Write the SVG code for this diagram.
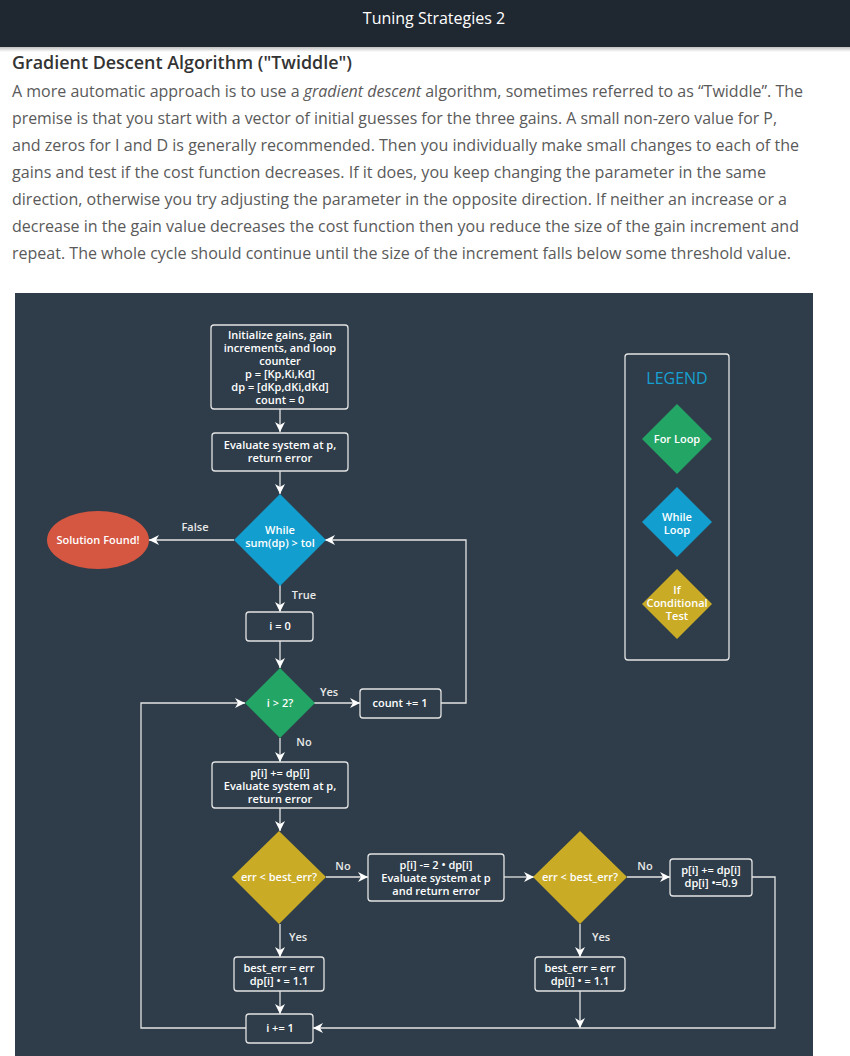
<svg xmlns="http://www.w3.org/2000/svg" width="850" height="1056" viewBox="0 0 850 1056">
<defs>
<style>
.hdr{font-family:"Open Sans","Liberation Sans",sans-serif;}
.para{font-family:"Open Sans","Liberation Sans",sans-serif;font-size:16px;fill:#5a5a5a;}
.t{font-family:"Open Sans","Liberation Sans",sans-serif;font-size:11px;font-weight:600;fill:#ffffff;text-anchor:middle;}
.lbl{font-family:"Open Sans","Liberation Sans",sans-serif;font-size:11px;font-weight:600;fill:#e8e8e8;text-anchor:middle;}
.box{fill:none;stroke:#e4e4e4;stroke-width:1.3;}
.con{fill:none;stroke:#e4e4e4;stroke-width:1.3;marker-end:url(#ah);}
</style>
<marker id="ah" markerUnits="userSpaceOnUse" markerWidth="10" markerHeight="10" refX="10" refY="5" orient="auto">
<path d="M0,0 L10,5 L0,10 L3,5 z" fill="#ffffff"/>
</marker>
<linearGradient id="sh" x1="0" y1="0" x2="0" y2="1">
<stop offset="0" stop-color="#000" stop-opacity="0.25"/>
<stop offset="1" stop-color="#000" stop-opacity="0"/>
</linearGradient>
</defs>
<rect width="850" height="1056" fill="#ffffff"/>
<rect x="0" y="0" width="850" height="47" fill="#1f2730"/>
<rect x="0" y="47" width="850" height="5" fill="url(#sh)"/>
<text class="hdr" x="434" y="24" font-size="16" fill="#ffffff" text-anchor="middle">Tuning Strategies 2</text>
<text class="hdr" x="12" y="69" font-size="18" font-weight="600" fill="#333333" textLength="340" lengthAdjust="spacingAndGlyphs">Gradient Descent Algorithm ("Twiddle")</text>
<text class="para" x="12" y="97" textLength="791" lengthAdjust="spacingAndGlyphs">A more automatic approach is to use a <tspan font-style="italic">gradient descent</tspan> algorithm, sometimes referred to as “Twiddle”. The</text>
<text class="para" x="12" y="124" textLength="765" lengthAdjust="spacingAndGlyphs">premise is that you start with a vector of initial guesses for the three gains. A small non-zero value for P,</text>
<text class="para" x="12" y="151" textLength="787" lengthAdjust="spacingAndGlyphs">and zeros for I and D is generally recommended. Then you individually make small changes to each of the</text>
<text class="para" x="12" y="178" textLength="754" lengthAdjust="spacingAndGlyphs">gains and test if the cost function decreases. If it does, you keep changing the parameter in the same</text>
<text class="para" x="12" y="205" textLength="775" lengthAdjust="spacingAndGlyphs">direction, otherwise you try adjusting the parameter in the opposite direction. If neither an increase or a</text>
<text class="para" x="12" y="232" textLength="787" lengthAdjust="spacingAndGlyphs">decrease in the gain value decreases the cost function then you reduce the size of the gain increment and</text>
<text class="para" x="12" y="259" textLength="779" lengthAdjust="spacingAndGlyphs">repeat. The whole cycle should continue until the size of the increment falls below some threshold value.</text>

<rect x="15" y="293" width="798" height="763" fill="#2e3d49"/>

<g id="connectors">
<path class="con" d="M280,409 V432"/>
<path class="con" d="M280,471 V494"/>
<path class="con" d="M234,540 H149"/>
<path class="con" d="M441,703 H466 V540 H325"/>
<path class="con" d="M280,585 V612"/>
<path class="con" d="M280,641 V668"/>
<path class="con" d="M314,703 H360"/>
<path class="con" d="M280,738 V762"/>
<path class="con" d="M280,808 V831"/>
<path class="con" d="M326,877 H368"/>
<path class="con" d="M504,877 H534"/>
<path class="con" d="M627,877 H670"/>
<path class="con" d="M280,924 V957"/>
<path class="con" d="M580,924 V957"/>
<path class="con" d="M280,991 V1014"/>
<path class="con" d="M580,991 V1028"/>
<path class="con" d="M752,877 H775 V1028 H313"/>
<path class="con" d="M246,1028 H141 V703 H245"/>
<text class="lbl" x="195" y="531">False</text>
<text class="lbl" x="304" y="599">True</text>
<text class="lbl" x="329" y="696">Yes</text>
<text class="lbl" x="304" y="746">No</text>
<text class="lbl" x="343" y="870">No</text>
<text class="lbl" x="298" y="941">Yes</text>
<text class="lbl" x="645" y="870">No</text>
<text class="lbl" x="601" y="941">Yes</text>
</g>

<g id="init">
<rect class="box" x="211" y="325" width="137" height="84" rx="3"/>
<text class="t" x="280" y="339">Initialize gains, gain</text>
<text class="t" x="280" y="352">increments, and loop</text>
<text class="t" x="280" y="365">counter</text>
<text class="t" x="280" y="378">p = [Kp,Ki,Kd]</text>
<text class="t" x="280" y="391">dp = [dKp,dKi,dKd]</text>
<text class="t" x="280" y="404">count = 0</text>
</g>
<g id="eval1">
<rect class="box" x="212" y="433" width="136" height="38" rx="3"/>
<text class="t" x="280" y="449">Evaluate system at p,</text>
<text class="t" x="280" y="462">return error</text>
</g>
<g id="while">
<polygon points="280,494 326,540 280,586 234,540" fill="#129ecf"/>
<text class="t" x="280" y="534">While</text>
<text class="t" x="280" y="547">sum(dp) &gt; tol</text>
</g>
<g id="solution">
<ellipse cx="98" cy="540" rx="51" ry="29" fill="#d55641"/>
<text class="t" x="98" y="544">Solution Found!</text>
</g>
<g id="i0">
<rect class="box" x="246" y="612" width="67" height="29" rx="3"/>
<text class="t" x="280" y="630">i = 0</text>
</g>
<g id="for">
<polygon points="280,668 315,703 280,738 245,703" fill="#22a565"/>
<text class="t" x="280" y="707">i &gt; 2?</text>
</g>
<g id="count">
<rect class="box" x="360" y="689" width="81" height="29" rx="3"/>
<text class="t" x="400" y="707">count += 1</text>
</g>
<g id="eval2">
<rect class="box" x="212" y="762" width="136" height="46" rx="3"/>
<text class="t" x="280" y="777">p[i] += dp[i]</text>
<text class="t" x="280" y="790">Evaluate system at p,</text>
<text class="t" x="280" y="803">return error</text>
</g>
<g id="if1">
<polygon points="279,831 326,877 279,924 232,877" fill="#c9ab26"/>
<text class="t" x="279" y="881">err &lt; best_err?</text>
</g>
<g id="eval3">
<rect class="box" x="368" y="854" width="136" height="47" rx="3"/>
<text class="t" x="436" y="869">p[i] -= 2 • dp[i]</text>
<text class="t" x="436" y="882">Evaluate system at p</text>
<text class="t" x="436" y="895">and return error</text>
</g>
<g id="if2">
<polygon points="580,831 627,877 580,924 533,877" fill="#c9ab26"/>
<text class="t" x="580" y="881">err &lt; best_err?</text>
</g>
<g id="dec">
<rect class="box" x="670" y="859" width="82" height="37" rx="3"/>
<text class="t" x="711" y="874">p[i] += dp[i]</text>
<text class="t" x="711" y="887">dp[i] •=0.9</text>
</g>
<g id="best1">
<rect class="box" x="234" y="957" width="90" height="34" rx="3"/>
<text class="t" x="279" y="972">best_err = err</text>
<text class="t" x="279" y="985">dp[i] • = 1.1</text>
</g>
<g id="best2">
<rect class="box" x="535" y="957" width="90" height="34" rx="3"/>
<text class="t" x="580" y="972">best_err = err</text>
<text class="t" x="580" y="985">dp[i] • = 1.1</text>
</g>
<g id="inc">
<rect class="box" x="246" y="1014" width="67" height="29" rx="3"/>
<text class="t" x="280" y="1032">i += 1</text>
</g>
<g id="legend">
<rect class="box" x="625" y="354" width="104" height="306" rx="3"/>
<text x="677" y="384" font-family="Open Sans, Liberation Sans, sans-serif" font-size="16" fill="#16a0d2" text-anchor="middle">LEGEND</text>
<polygon points="677,404 712,439 677,474 642,439" fill="#22a565"/>
<text class="t" x="677" y="443">For Loop</text>
<polygon points="677,487 712,522 677,557 642,522" fill="#129ecf"/>
<text class="t" x="677" y="521">While</text>
<text class="t" x="677" y="534">Loop</text>
<polygon points="677,569 712,604 677,639 642,604" fill="#c9ab26"/>
<text class="t" x="677" y="594">If</text>
<text class="t" x="677" y="607">Conditional</text>
<text class="t" x="677" y="620">Test</text>
</g>
</svg>
